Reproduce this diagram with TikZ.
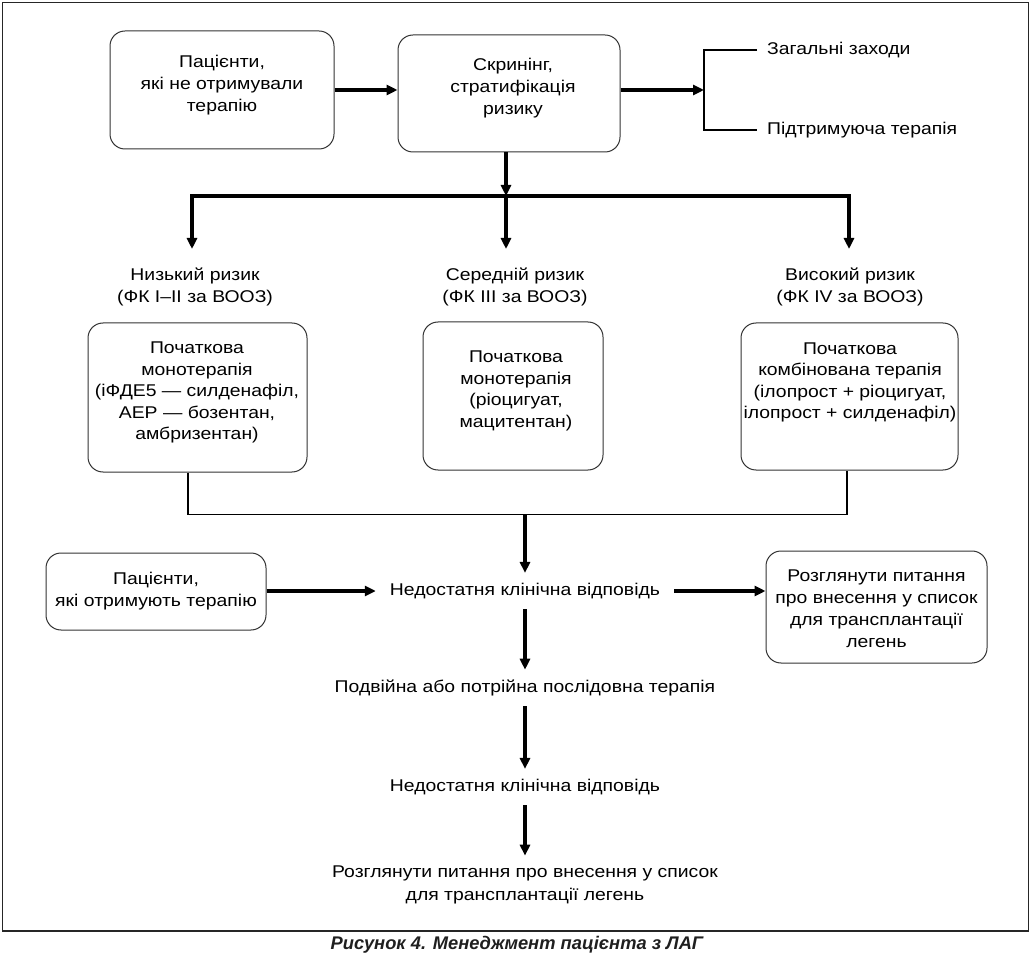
\documentclass[tikz,border=0pt]{standalone}
\usepackage{fontspec}
\setmainfont{Liberation Sans}[FakeStretch=1.14]
\newfontfamily\capfont{Liberation Sans}
\usetikzlibrary{arrows.meta}
\begin{document}
\begin{tikzpicture}[x=1pt,y=-1pt,
  box/.style={draw=black!80, line width=1pt, rounded corners=15pt, inner sep=0pt},
  txt/.style={align=center, inner xsep=14pt, inner ysep=10pt, font=\fontsize{17}{22}\selectfont},
  txtb/.style={txt, font=\fontsize{17}{21.5}\selectfont},
  arr/.style={line width=3.4pt, -{Triangle[length=11pt,width=10pt]}},
  thinline/.style={line width=1.2pt}]
\useasboundingbox (0,0) rectangle (1031,957);
\draw[line width=1.3pt, black!85] (2.5,2.5) rectangle (1028.5,931);

% top boxes
\node[box, minimum width=224pt, minimum height=118pt] (b1) at (222,90) {};
\node[txt] (b1t) at (222,85) {Пацієнти,\\які не отримували\\терапію};
\node[box, minimum width=222pt, minimum height=117pt] (b2) at (509,93.5) {};
\node[txt] (b2t) at (513,88.5) {Скринінг,\\стратифікація\\ризику};

\draw[arr] (b1.east) -- (b1.east -| b2.west);

% bracket
\coordinate (bk) at (704,90);
\node[txt, anchor=west, inner xsep=10pt] (zag) at (757,50) {Загальні заходи};
\node[txt, anchor=west, inner xsep=10pt] (pid) at (757,130) {Підтримуюча терапія};
\draw[arr] (b2.east |- bk) -- (bk);
\draw[thinline] (zag.west) -- (zag.west -| bk) -- (pid.west -| bk) -- (pid.west);

% split
\coordinate (jt) at (506,196);
\coordinate (tl) at (192,249);
\coordinate (tm) at (506,249);
\coordinate (tr) at (849,249);
\draw[arr] (b2.south -| jt) -- (jt);
\draw[arr] (jt) -| (tl);
\draw[arr] (jt) -| (tr);
\draw[arr] (jt) -- (tm);

% risk labels
\node[txt] (lowl) at (195,287) {Низький ризик\\(ФК I–II за ВООЗ)};
\node[txt] (midl) at (515,287) {Середній ризик\\(ФК III за ВООЗ)};
\node[txt] (higl) at (850,287) {Високий ризик\\(ФК IV за ВООЗ)};

% therapy boxes
\node[box, minimum width=219pt, minimum height=149pt] (bL) at (197.5,397.5) {};
\node[txtb] (bLt) at (197,392.5) {Початкова\\монотерапія\\(іФДЕ5 — силденафіл,\\АЕР — бозентан,\\амбризентан)};
\node[box, minimum width=180pt, minimum height=148pt] (bM) at (513,396) {};
\node[txtb] (bMt) at (516,391) {Початкова\\монотерапія\\(ріоцигуат,\\мацитентан)};
\node[box, minimum width=217pt, minimum height=147pt] (bR) at (849.5,396.5) {};
\node[txtb] (bRt) at (850,382.5) {Початкова\\комбінована терапія\\(ілопрост + ріоцигуат,\\ілопрост + силденафіл)};

\coordinate (hL) at (188,514.5);
\coordinate (hR) at (847,514.5);
\draw[thinline] (bL.south -| hL) -- (hL) -- (hR) -- (bR.south -| hR);

% lower part
\node[txt] (nr1) at (525,591) {Недостатня клінічна відповідь};
\draw[arr] (nr1.north |- hL) -- (nr1.north);

\node[box, minimum width=220pt, minimum height=77pt] (bP) at (156,591.5) {};
\node[txt] (bPt) at (156,591.5) {Пацієнти,\\які отримують терапію};
\node[box, minimum width=221pt, minimum height=112pt] (bT) at (876.5,607) {};
\node[txt] (bTt) at (876.5,609) {Розглянути питання\\про внесення у список\\для трансплантації\\легень};

\draw[arr] (bP.east |- nr1.west) -- (nr1.west);
\draw[arr] (nr1.east) -- (nr1.east -| bT.west);

\node[txt] (dt) at (525,688) {Подвійна або потрійна послідовна терапія};
\draw[arr] (nr1.south) -- (dt.north);
\node[txt] (nr2) at (525,787) {Недостатня клінічна відповідь};
\draw[arr] (dt.south) -- (nr2.north);
\node[txt, font=\fontsize{17}{23}\selectfont] (fin) at (525,885) {Розглянути питання про внесення у список\\для трансплантації легень};
\draw[arr] (nr2.south) -- (fin.north);

\node[font=\capfont\fontsize{18.3}{20}\selectfont\bfseries\itshape, text=black!88] (cap) at (517,945) {Рисунок 4. Менеджмент пацієнта з ЛАГ};
\end{tikzpicture}
\end{document}
